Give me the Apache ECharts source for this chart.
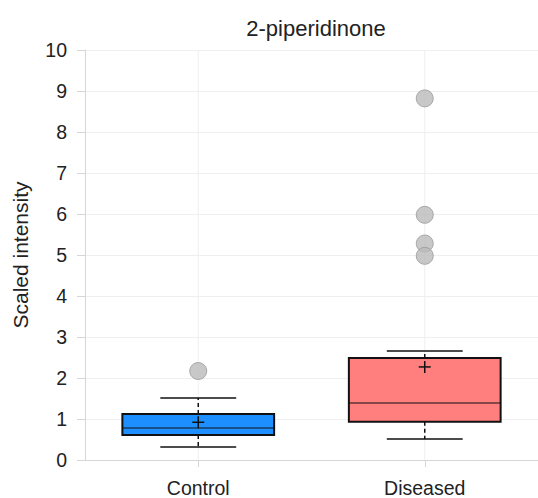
<!DOCTYPE html>
<html>
<head>
<meta charset="utf-8">
<script src="https://cdn.jsdelivr.net/npm/echarts@6/dist/echarts.min.js"></script>
<style>
  html, body { margin: 0; padding: 0; background: #fff; }
  #chart { width: 538px; height: 498px; }
</style>
</head>
<body>
<div id="chart"></div>
<script>
// box plot: 2-piperidinone
var categories = ['Control', 'Diseased'];
var lowerWhisker = [0.32, 0.51];
var q1 = [0.61, 0.93];
var median = [0.78, 1.39];
var q3 = [1.12, 2.49];
var upperWhisker = [1.51, 2.66];
var means = [0.92, 2.27];
var outliers = [[0, 2.17], [1, 8.82], [1, 5.98], [1, 5.28], [1, 4.98]];
var boxColors = ['#1e8fff', '#ff7f7f'];
var yTicks = [0, 10, 1];

(function() {
  var ink = '#222';
  var rule = '#d6d6d6';
  var grid = '#efefef';

  var boxData = categories.map(function(c, i) {
    return [i, lowerWhisker[i], q1[i], median[i], q3[i], upperWhisker[i], means[i]];
  });

  var chart = echarts.init(document.getElementById('chart'), null, { renderer: 'svg' });
  chart.setOption({
    animation: false,
    textStyle: { fontFamily: 'Liberation Sans, Arial, sans-serif' },
    title: {
      text: '2-piperidinone',
      left: 311, top: 12, textAlign: 'center',
      textStyle: { color: ink, fontSize: 22, fontWeight: 'normal' }
    },
    grid: { left: 85, right: 0, top: 50, bottom: 38 },
    xAxis: {
      type: 'category',
      data: categories,
      axisLine: { lineStyle: { color: rule } },
      axisTick: { show: true, alignWithLabel: true, length: 7, lineStyle: { color: rule } },
      axisLabel: { color: ink, fontSize: 19.5, margin: 18 },
      splitLine: { show: false }
    },
    yAxis: {
      type: 'value',
      min: yTicks[0], max: yTicks[1], interval: yTicks[2],
      name: 'Scaled intensity',
      nameLocation: 'middle',
      nameRotate: 90,
      nameGap: 54,
      nameTextStyle: { color: ink, fontSize: 21 },
      axisLine: { show: true, lineStyle: { color: rule } },
      axisTick: { show: true, length: 8, lineStyle: { color: rule } },
      axisLabel: { color: ink, fontSize: 19.5, margin: 18 },
      splitLine: { lineStyle: { color: grid } }
    },
    series: [
      {
        type: 'custom',
        data: boxData,
        z: 3,
        renderItem: function(params, api) {
          var i = api.value(0);
          var bandW = api.size([1, 0])[0];
          var boxW = bandW * 0.67;
          var capW = bandW * 0.335;
          var pLo = api.coord([i, api.value(1)]);
          var pQ1 = api.coord([i, api.value(2)]);
          var pMed = api.coord([i, api.value(3)]);
          var pQ3 = api.coord([i, api.value(4)]);
          var pHi = api.coord([i, api.value(5)]);
          var pMean = api.coord([i, api.value(6)]);
          var pTop = api.coord([i, yTicks[1]]);
          var pBot = api.coord([i, yTicks[0]]);
          var x = pMed[0];
          var black = '#111';
          return {
            type: 'group',
            children: [
              { type: 'line', shape: { x1: x, y1: pTop[1], x2: x, y2: pBot[1] },
                style: { stroke: grid, lineWidth: 1 } },
              { type: 'line', shape: { x1: x, y1: pQ3[1], x2: x, y2: pHi[1] },
                style: { stroke: black, lineWidth: 1.5, lineDash: [4, 3] } },
              { type: 'line', shape: { x1: x, y1: pQ1[1], x2: x, y2: pLo[1] },
                style: { stroke: black, lineWidth: 1.5, lineDash: [4, 3] } },
              { type: 'line', shape: { x1: x - capW / 2, y1: pHi[1], x2: x + capW / 2, y2: pHi[1] },
                style: { stroke: black, lineWidth: 1.5 } },
              { type: 'line', shape: { x1: x - capW / 2, y1: pLo[1], x2: x + capW / 2, y2: pLo[1] },
                style: { stroke: black, lineWidth: 1.5 } },
              { type: 'rect', shape: { x: x - boxW / 2, y: pQ3[1], width: boxW, height: pQ1[1] - pQ3[1] },
                style: { fill: boxColors[i], stroke: black, lineWidth: 2 } },
              { type: 'line', shape: { x1: x - boxW / 2, y1: pMed[1], x2: x + boxW / 2, y2: pMed[1] },
                style: { stroke: black, lineWidth: 1.2 } },
              { type: 'line', shape: { x1: x - 6, y1: pMean[1], x2: x + 6, y2: pMean[1] },
                style: { stroke: black, lineWidth: 1.5 } },
              { type: 'line', shape: { x1: x, y1: pMean[1] - 6, x2: x, y2: pMean[1] + 6 },
                style: { stroke: black, lineWidth: 1.5 } }
            ]
          };
        }
      },
      {
        type: 'scatter',
        data: outliers,
        z: 4,
        symbol: 'circle',
        symbolSize: 17,
        itemStyle: { color: '#bababa', borderColor: '#9a9a9a', borderWidth: 1 }
      }
    ]
  });
})();
</script>
</body>
</html>
